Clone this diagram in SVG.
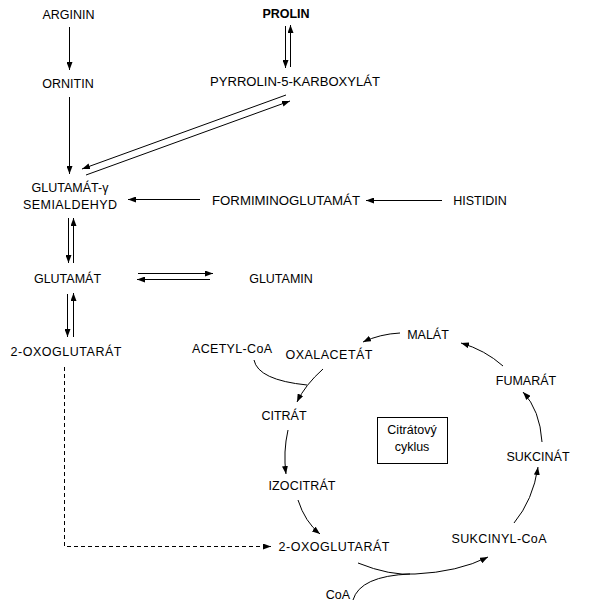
<svg xmlns="http://www.w3.org/2000/svg" width="599" height="611" viewBox="0 0 599 611">
<defs>
<marker id="ah" viewBox="0 0 8 6" refX="8" refY="3" markerWidth="8" markerHeight="6" markerUnits="userSpaceOnUse" orient="auto"><path d="M0,0 L8,3 L0,6 z" fill="#000"/></marker>
</defs>
<style>
text{font-family:"Liberation Sans",Arial,sans-serif;font-size:12.5px;fill:#000;text-anchor:middle}
.b{font-weight:bold}
#connectors path{stroke:#000;stroke-width:1;fill:none}
#connectors .a{marker-end:url(#ah)}
#connectors .d{stroke-dasharray:4,3}
.box{fill:#fff;stroke:#000;stroke-width:1}
</style>
<rect width="599" height="611" fill="#fff"/>
<g id="connectors">
<path class="a" d="M69.5,27 V70"/>
<path class="a" d="M69.5,97 V174"/>
<path class="a" d="M285.5,26 V68"/>
<path class="a" d="M290.5,67 V25"/>
<path class="a" d="M286,95 L82,169"/>
<path class="a" d="M86,175 L290,101"/>
<path class="a" d="M200,199.5 H128"/>
<path class="a" d="M442,200.5 H366"/>
<path class="a" d="M68.5,218 V263"/>
<path class="a" d="M73.5,263 V218"/>
<path class="a" d="M138,273.5 H213"/>
<path class="a" d="M210,279.5 H137"/>
<path class="a" d="M67.5,294 V337"/>
<path class="a" d="M73.5,337 V293"/>
<path class="a d" d="M64.5,367 V546.5 H271"/>
<path class="a" d="M400,333 Q380,334 363,342"/>
<path class="a" d="M503,366 Q485,350 461,343"/>
<path class="a" d="M542,442 Q540,410 523,392"/>
<path d="M254,360 Q258,380 307,385"/>
<path class="a" d="M323,369 Q305,385 297,402"/>
<path class="a" d="M288,430 Q283,452 286,474"/>
<path class="a" d="M298,500 Q305,522 320,534"/>
<path class="a" d="M358,563 Q390,576 415,574 Q458,572 488,557"/>
<path d="M353,600 Q360,576 410,574"/>
<path class="a" d="M514,523 Q533,500 538,467"/>
</g>
<g id="n-arginin"><text x="68.5" y="19">ARGININ</text></g>
<g id="n-ornitin"><text x="68" y="88">ORNITIN</text></g>
<g id="n-prolin"><text class="b" x="286" y="18">PROLIN</text></g>
<g id="n-pyrrolin"><text x="295" y="86" textLength="170" lengthAdjust="spacingAndGlyphs">PYRROLIN-5-KARBOXYLÁT</text></g>
<g id="n-glusemi"><text x="70" y="192">GLUTAMÁT-γ</text><text x="70" y="209" textLength="94">SEMIALDEHYD</text></g>
<g id="n-formimino"><text x="286" y="205" textLength="148" lengthAdjust="spacingAndGlyphs">FORMIMINOGLUTAMÁT</text></g>
<g id="n-histidin"><text x="480" y="205">HISTIDIN</text></g>
<g id="n-glutamat"><text x="67.5" y="283">GLUTAMÁT</text></g>
<g id="n-glutamin"><text x="281" y="283">GLUTAMIN</text></g>
<g id="n-oxo1"><text x="66" y="356" textLength="111">2-OXOGLUTARÁT</text></g>
<g id="n-acetyl"><text x="232" y="353" textLength="80">ACETYL-CoA</text></g>
<g id="n-oxal"><text x="329" y="359" textLength="87">OXALACETÁT</text></g>
<g id="n-malat"><text x="428" y="339">MALÁT</text></g>
<g id="n-fumarat"><text x="526" y="385">FUMARÁT</text></g>
<g id="n-citrat"><text x="284" y="420">CITRÁT</text></g>
<g id="n-cyklus"><rect class="box" x="377.5" y="417.5" width="70" height="46"/><text x="412" y="434">Citrátový</text><text x="412" y="451">cyklus</text></g>
<g id="n-sukcinat"><text x="538" y="461">SUKCINÁT</text></g>
<g id="n-izocitrat"><text x="302" y="490" textLength="67">IZOCITRÁT</text></g>
<g id="n-oxo2"><text x="334" y="551" textLength="111">2-OXOGLUTARÁT</text></g>
<g id="n-sukcinylcoa"><text x="499" y="543" textLength="95">SUKCINYL-CoA</text></g>
<g id="n-coa"><text x="338" y="599">CoA</text></g>
</svg>
